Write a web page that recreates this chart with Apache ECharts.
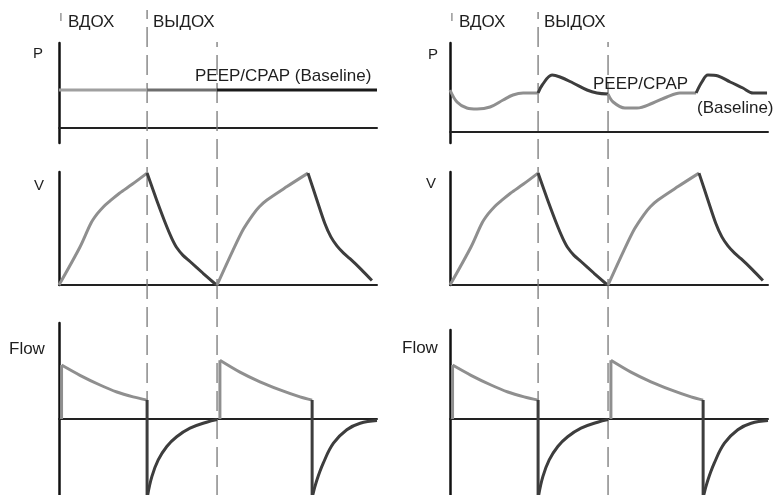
<!DOCTYPE html>
<html><head><meta charset="utf-8">
<script src="https://cdn.jsdelivr.net/npm/echarts@6/dist/echarts.min.js"></script>
<style>html,body{margin:0;padding:0;background:#fff}#c{width:776px;height:495px}</style>
</head><body><div id="c"></div>
<script>
// ---- texts ----
const phaseLabels = ['ВДОХ', 'ВЫДОХ'];
const rowLabels = ['P', 'V', 'Flow'];
const baselineLabelLeft = 'PEEP/CPAP (Baseline)';
const baselineLabelRight = ['PEEP/CPAP', '(Baseline)'];

// ---- time (0..100 % of sweep) ----
const phaseBounds = [27.7, 49.7]; // end of 1st inspiration, end of 1st expiration

// ---- Left P (constant baseline) ----
const pLeftInsp = [[0, 3.8], [27.7, 3.8]];
const pLeftExp = [[27.7, 3.8], [49.7, 3.8]];
const pLeftRest = [[49.7, 3.8], [100, 3.8]];

// ---- Right P (pressure swings around baseline) ----
const pRightInsp1 = [[0, 4.2], [2.2, 3.0], [5.3, 2.4], [8.5, 2.3], [12.6, 2.5], [16.7, 3.2], [19.8, 3.7], [23.0, 3.9], [27.7, 3.9]];
const pRightExp1 = [[27.7, 3.9], [29.0, 4.7], [32.1, 5.7], [34.6, 5.5], [38.7, 4.9], [43.1, 4.2], [46.2, 3.9], [49.7, 3.8]];
const pRightInsp2 = [[49.7, 3.8], [51.3, 3.0], [55.0, 2.4], [58.8, 2.4], [63.8, 2.9], [68.2, 3.5], [72.3, 3.9], [77.4, 3.9]];
const pRightExp2 = [[77.4, 3.9], [79.2, 5.0], [81.1, 5.7], [84.3, 5.6], [88.1, 5.0], [92.1, 4.4], [95.3, 3.9], [99.7, 3.9]];

// ---- Volume ----
const vInsp1 = [[0, 0], [6.6, 0.34], [10, 0.55], [12, 0.635], [14, 0.70], [16, 0.75], [19, 0.82], [23, 0.9], [27.7, 1.0]];
const vExp1 = [[27.7, 1.0], [30.7, 0.76], [33.9, 0.52], [35.5, 0.415], [37.0, 0.335], [39.0, 0.265], [41.2, 0.21], [45.3, 0.105], [49.5, 0]];
const vInsp2 = [[49.7, 0], [54.7, 0.31], [58, 0.5], [61.0, 0.63], [63, 0.7], [65.4, 0.76], [71.7, 0.88], [78.3, 1.0]];
const vExp2 = [[78.3, 1.0], [81.1, 0.76], [83.6, 0.55], [85.5, 0.43], [87.4, 0.35], [89.5, 0.285], [91.5, 0.235], [95.0, 0.14], [98.4, 0.04]];

// ---- Flow ----
const fRise1 = [[0.8, 0], [0.8, 1.0]];
const fInsp1 = [[0.8, 1.0], [6.6, 0.81], [12.9, 0.63], [18.2, 0.5], [23.3, 0.41], [27.7, 0.35]];
const fDrop1 = [[27.7, 0.35], [27.7, -1.41]];
const fExp1 = [[27.9, -1.41], [29.2, -1.07], [31.2, -0.76], [33.9, -0.51], [37.0, -0.33], [41.2, -0.17], [46.4, -0.06], [49.7, -0.01]];
const fRise2 = [[50.6, 0], [50.6, 1.09]];
const fInsp2 = [[50.6, 1.09], [56.9, 0.87], [63.2, 0.69], [69.5, 0.54], [75.8, 0.41], [79.6, 0.35]];
const fDrop2 = [[79.6, 0.35], [79.6, -1.41]];
const fExp2 = [[79.8, -1.41], [81.0, -1.15], [83.1, -0.82], [86.3, -0.45], [90.5, -0.2], [94.7, -0.08], [100, -0.03]];

// ---- layout ----
const colLeft = [59, 450];
const colW = 318;
const INSP = '#8f8f8f', EXP = '#3d3d3d', MID = '#6e6e6e', DARK = '#1a1a1a';
const FONT = '"Liberation Sans", Arial, sans-serif';

const grids = [], xAxes = [], yAxes = [], series = [];
function addGrid(g, ymin, ymax, showAxes) {
  grids.push(g);
  const i = grids.length - 1;
  xAxes.push({
    gridIndex: i, type: 'value', min: 0, max: 100, show: showAxes,
    axisLine: { show: true, onZero: true, lineStyle: { color: '#222', width: 2 } },
    axisTick: { show: false }, axisLabel: { show: false }, splitLine: { show: false }
  });
  yAxes.push({
    gridIndex: i, type: 'value', min: ymin, max: ymax, show: showAxes,
    axisLine: { show: true, onZero: true, lineStyle: { color: '#111', width: 2.5 } },
    axisTick: { show: false }, axisLabel: { show: false }, splitLine: { show: false }
  });
  return i;
}
function seg(gi, data, color, smooth, width) {
  series.push({
    type: 'line', xAxisIndex: gi, yAxisIndex: gi, data: data, smooth: smooth || false,
    symbol: 'none', silent: true, z: 3,
    lineStyle: { color: color, width: width || 3 }
  });
}
function vline(gi, x, color, dashed) {
  series.push({
    type: 'line', xAxisIndex: gi, yAxisIndex: gi, data: [[x, 0], [x, 1]],
    symbol: 'none', silent: true, z: 1,
    lineStyle: { color: color, width: 1.3, type: dashed ? [20, 8] : 'solid' }
  });
}

// overlay grids (dashed phase boundaries)
[0, 1].forEach(c => {
  const L = colLeft[c];
  const gA = addGrid({ left: L, width: colW, top: c ? 12 : 10, bottom: 0 }, 0, 1, false);
  vline(gA, phaseBounds[0], '#777', true);
  const gB = addGrid({ left: L, width: colW, top: 42, bottom: 0 }, 0, 1, false);
  vline(gB, phaseBounds[1], '#777', true);
  const gT = addGrid({ left: L, width: colW, top: 13, height: 8 }, 0, 1, false);
  vline(gT, 0.6, '#888', false);
});

// Left column
let g = addGrid({ left: colLeft[0], width: colW, top: 43, height: 100 }, -1.5, 8.5, true);
seg(g, pLeftInsp, '#a0a0a0'); seg(g, pLeftExp, MID); seg(g, pLeftRest, DARK);
g = addGrid({ left: colLeft[0], width: colW, top: 172, height: 113 }, 0, 1.01, true);
seg(g, vInsp1, INSP, 0.3); seg(g, vExp1, EXP, 0.3); seg(g, vInsp2, INSP, 0.3); seg(g, vExp2, EXP, 0.3);
g = addGrid({ left: colLeft[0], width: colW, top: 323, height: 172 }, -1.41, 1.78, true);
seg(g, fRise1, INSP); seg(g, fInsp1, INSP, 0.3); seg(g, fDrop1, EXP); seg(g, fExp1, EXP, 0.4);
seg(g, fRise2, INSP); seg(g, fInsp2, INSP, 0.3); seg(g, fDrop2, EXP); seg(g, fExp2, EXP, 0.4);

// Right column
g = addGrid({ left: colLeft[1], width: colW, top: 43, height: 100 }, -1.1, 8.9, true);
seg(g, pRightInsp1, INSP, 0.35); seg(g, pRightExp1, EXP, 0.35); seg(g, pRightInsp2, INSP, 0.35); seg(g, pRightExp2, EXP, 0.35);
g = addGrid({ left: colLeft[1], width: colW, top: 172, height: 113 }, 0, 1.01, true);
seg(g, vInsp1, INSP, 0.3); seg(g, vExp1, EXP, 0.3); seg(g, vInsp2, INSP, 0.3); seg(g, vExp2, EXP, 0.3);
g = addGrid({ left: colLeft[1], width: colW, top: 330, height: 165 }, -1.41, 1.65, true);
seg(g, fRise1, INSP); seg(g, fInsp1, INSP, 0.3); seg(g, fDrop1, EXP); seg(g, fExp1, EXP, 0.4);
seg(g, fRise2, INSP); seg(g, fInsp2, INSP, 0.3); seg(g, fDrop2, EXP); seg(g, fExp2, EXP, 0.4);

function txt(t, x, y, size) {
  return { type: 'text', x: x, y: y, silent: true, z: 10,
    style: { text: t, fill: '#1e1e1e', font: size + 'px ' + FONT, align: 'left', verticalAlign: 'middle' } };
}
const graphic = [
  txt(phaseLabels[0], 68, 22, 17), txt(phaseLabels[1], 153, 22, 17),
  txt(rowLabels[0], 33, 54, 15), txt(baselineLabelLeft, 195, 76, 17),
  txt(rowLabels[1], 34, 186, 15), txt(rowLabels[2], 9, 349, 17),
  txt(phaseLabels[0], 459, 22, 17), txt(phaseLabels[1], 544, 22, 17),
  txt(rowLabels[0], 428, 55, 15), txt(baselineLabelRight[0], 593, 84, 17),
  txt(baselineLabelRight[1], 697, 108, 17),
  txt(rowLabels[1], 426, 184, 15), txt(rowLabels[2], 402, 348, 17)
];

const chart = echarts.init(document.getElementById('c'), null, { renderer: 'canvas' });
chart.setOption({
  animation: false,
  backgroundColor: '#fff',
  grid: grids, xAxis: xAxes, yAxis: yAxes, series: series, graphic: graphic
});
</script></body></html>
